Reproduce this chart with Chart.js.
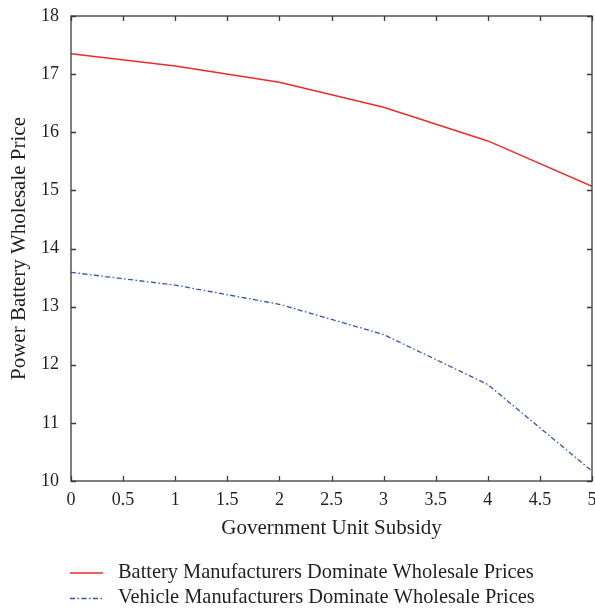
<!DOCTYPE html>
<html>
<head>
<meta charset="utf-8">
<script src="https://cdn.jsdelivr.net/npm/chart.js@4.4.1/dist/chart.umd.min.js"></script>
<style>
  html, body { margin: 0; padding: 0; background: #ffffff; }
  #wrap { width: 595px; height: 612px; position: relative; }
</style>
</head>
<body>
<div id="wrap"><canvas id="chart" width="595" height="612"></canvas></div>
<script>
// Government unit subsidy levels
const subsidy = [0, 1, 2, 3, 4, 5];
// Power battery wholesale price under each channel-power structure
const batteryLeads = [17.35, 17.14, 16.86, 16.43, 15.85, 15.07];
const vehicleLeads = [13.59, 13.37, 13.04, 12.52, 11.66, 10.17];

const seriesNames = [
  'Battery Manufacturers Dominate Wholesale Prices',
  'Vehicle Manufacturers Dominate Wholesale Prices'
];
const xTitle = 'Government Unit Subsidy';
const yTitle = 'Power Battery Wholesale Price';

const FONT = "'Liberation Serif', 'DejaVu Serif', serif";
const TEXT = '#231f20';
const AXIS = '#3a3a3a';

const toPoints = (ys) => subsidy.map((x, i) => ({ x: x, y: ys[i] }));

// Boxed frame with inward-facing tick marks on all four sides
const framePlugin = {
  id: 'frame',
  afterDatasetsDraw(chart) {
    const { ctx, chartArea: a, scales } = chart;
    ctx.save();
    ctx.strokeStyle = AXIS;
    ctx.lineWidth = 1.3;
    ctx.strokeRect(a.left, a.top, a.right - a.left, a.bottom - a.top);
    const len = 5;
    ctx.beginPath();
    scales.x.ticks.forEach(t => {
      const px = Math.round(scales.x.getPixelForValue(t.value)) + 0.5;
      ctx.moveTo(px, a.bottom); ctx.lineTo(px, a.bottom - len);
      ctx.moveTo(px, a.top); ctx.lineTo(px, a.top + len);
    });
    scales.y.ticks.forEach(t => {
      const py = Math.round(scales.y.getPixelForValue(t.value)) + 0.5;
      ctx.moveTo(a.left, py); ctx.lineTo(a.left + len, py);
      ctx.moveTo(a.right, py); ctx.lineTo(a.right - len, py);
    });
    ctx.stroke();
    ctx.restore();
  }
};

// Legend stacked under the x-axis title, one row per series
const legendPlugin = {
  id: 'stackedLegend',
  afterDraw(chart) {
    const { ctx } = chart;
    ctx.save();
    chart.data.datasets.forEach((ds, i) => {
      const y = 572.5 + i * 25.5;
      ctx.strokeStyle = ds.borderColor;
      ctx.lineWidth = ds.borderWidth;
      ctx.setLineDash(ds.borderDash || []);
      ctx.beginPath();
      ctx.moveTo(70, y + 0.5);
      ctx.lineTo(103, y + 0.5);
      ctx.stroke();
      ctx.setLineDash([]);
      ctx.fillStyle = TEXT;
      ctx.font = '20.4px ' + FONT;
      ctx.textBaseline = 'middle';
      ctx.textAlign = 'left';
      ctx.fillText(ds.label, 118, y);
    });
    ctx.restore();
  }
};

new Chart(document.getElementById('chart'), {
  type: 'line',
  data: {
    datasets: [
      {
        label: seriesNames[0],
        data: toPoints(batteryLeads),
        borderColor: '#ee2b2b',
        borderWidth: 1.4,
        pointRadius: 0,
        tension: 0,
        fill: false
      },
      {
        label: seriesNames[1],
        data: toPoints(vehicleLeads),
        borderColor: '#3253b8',
        borderWidth: 1.3,
        borderDash: [5, 2.5, 1.5, 2.5],
        pointRadius: 0,
        tension: 0,
        fill: false
      }
    ]
  },
  options: {
    responsive: false,
    animation: false,
    layout: { padding: { top: 16, right: 3, bottom: 71, left: 0 } },
    plugins: {
      legend: { display: false },
      tooltip: { enabled: false }
    },
    scales: {
      x: {
        type: 'linear',
        min: 0,
        max: 5,
        ticks: {
          stepSize: 0.5,
          padding: 0,
          color: TEXT,
          font: { family: FONT, size: 18 },
          maxRotation: 0,
          callback: (v) => String(v)
        },
        grid: { display: false },
        border: { display: false },
        title: {
          display: true,
          text: xTitle,
          color: TEXT,
          font: { family: FONT, size: 21 },
          padding: { top: 0, bottom: 0 }
        },
        afterFit(scale) {
          scale.height = 60;
          scale.paddingLeft = 0;
          scale.paddingRight = 0;
        }
      },
      y: {
        min: 10,
        max: 18,
        ticks: {
          stepSize: 1,
          padding: 4,
          color: TEXT,
          font: { family: FONT, size: 18 }
        },
        grid: { display: false },
        border: { display: false },
        title: {
          display: true,
          text: yTitle,
          color: TEXT,
          font: { family: FONT, size: 21 },
          padding: { top: 7, bottom: 0 }
        },
        afterFit(scale) {
          scale.width = 71;
          scale.paddingTop = 0;
          scale.paddingBottom = 0;
        }
      }
    }
  },
  plugins: [framePlugin, legendPlugin]
});
</script>
</body>
</html>
